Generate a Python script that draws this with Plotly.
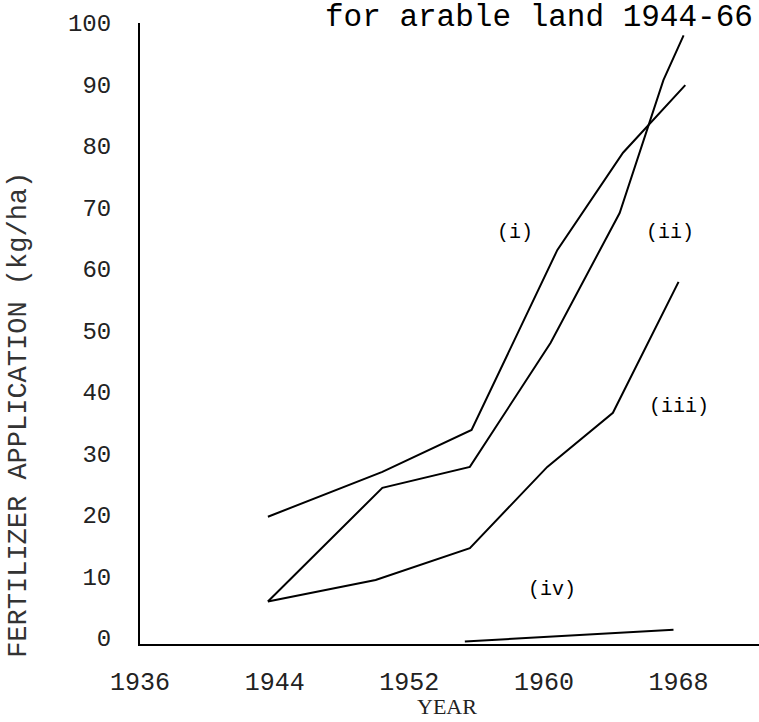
import plotly.graph_objects as go

# Data (year, kg/ha)
years_i = [1943.6, 1950.4, 1955.7, 1960.8, 1964.7, 1968.4]
vals_i = [19.7, 27.0, 33.8, 63.1, 78.9, 89.9]

years_ii = [1943.6, 1950.4, 1955.6, 1960.4, 1964.5, 1967.1, 1968.3]
vals_ii = [5.9, 24.4, 27.8, 48.0, 69.1, 90.7, 98.0]

years_iii = [1943.6, 1950.0, 1955.6, 1960.2, 1964.1, 1968.0]
vals_iii = [5.9, 9.4, 14.6, 27.8, 36.6, 57.9]

years_iv = [1955.3, 1967.7]
vals_iv = [-0.6, 1.3]

x_ticks = [1936, 1944, 1952, 1960, 1968]
x_ticklabels = ["1936", "1944", "1952", "1960", "1968"]
y_ticks = [0, 10, 20, 30, 40, 50, 60, 70, 80, 90, 100]
y_ticklabels = ["0", "10", "20", "30", "40", "50", "60", "70", "80", "90", "100"]

series = [
    ("(i)", years_i, vals_i),
    ("(ii)", years_ii, vals_ii),
    ("(iii)", years_iii, vals_iii),
    ("(iv)", years_iv, vals_iv),
]

fig = go.Figure()
for name, xs, ys in series:
    fig.add_trace(go.Scatter(x=xs, y=ys, mode="lines", name=name,
                             line=dict(color="black", width=2),
                             showlegend=False, hoverinfo="skip"))

mono = "Liberation Mono"

annotations = [
    dict(text="for arable land 1944-66", xref="paper", yref="paper",
         x=0.296, y=1.009, xanchor="left", yanchor="middle", showarrow=False,
         font=dict(family=mono, size=31, color="black")),
    dict(text="FERTILIZER APPLICATION (kg/ha)", xref="paper", yref="paper",
         x=-0.1955, y=0.369, xanchor="center", yanchor="middle", textangle=-90,
         showarrow=False, font=dict(family=mono, size=27, color="#333")),
    dict(text="YEAR", xref="paper", yref="paper", x=0.496, y=-0.1235,
         xanchor="center", yanchor="bottom", showarrow=False,
         font=dict(family="Liberation Serif", size=22, color="#222")),
    dict(text="(i)", x=1958.3, y=66.0, xref="x", yref="y", showarrow=False,
         font=dict(family=mono, size=20, color="black")),
    dict(text="(ii)", x=1967.5, y=66.0, xref="x", yref="y", showarrow=False,
         font=dict(family=mono, size=20, color="black")),
    dict(text="(iii)", x=1968.0, y=37.6, xref="x", yref="y", showarrow=False,
         font=dict(family=mono, size=20, color="black")),
    dict(text="(iv)", x=1960.5, y=7.8, xref="x", yref="y", showarrow=False,
         font=dict(family=mono, size=20, color="black")),
]

fig.update_layout(
    width=759, height=722,
    margin=dict(l=140, r=0, t=23, b=78),
    paper_bgcolor="white", plot_bgcolor="white",
    annotations=annotations,
    xaxis=dict(range=[1936, 1972.78], tickmode="array", tickvals=x_ticks,
               ticktext=x_ticklabels, showgrid=False, zeroline=False,
               showline=True, linecolor="black", linewidth=2, ticks="",
               ticklabelstandoff=14,
               tickfont=dict(family=mono, size=25, color="#222")),
    yaxis=dict(range=[-1, 100], tickmode="array", tickvals=y_ticks,
               ticktext=y_ticklabels, showgrid=False, zeroline=False,
               showline=True, linecolor="black", linewidth=2, ticks="",
               ticklabelstandoff=22,
               tickfont=dict(family=mono, size=24, color="#222")),
)

fig.write_html(
    "out.html",
    config={"displayModeBar": False},
    post_script="document.body.style.margin='0';document.body.style.overflow='hidden';",
)
